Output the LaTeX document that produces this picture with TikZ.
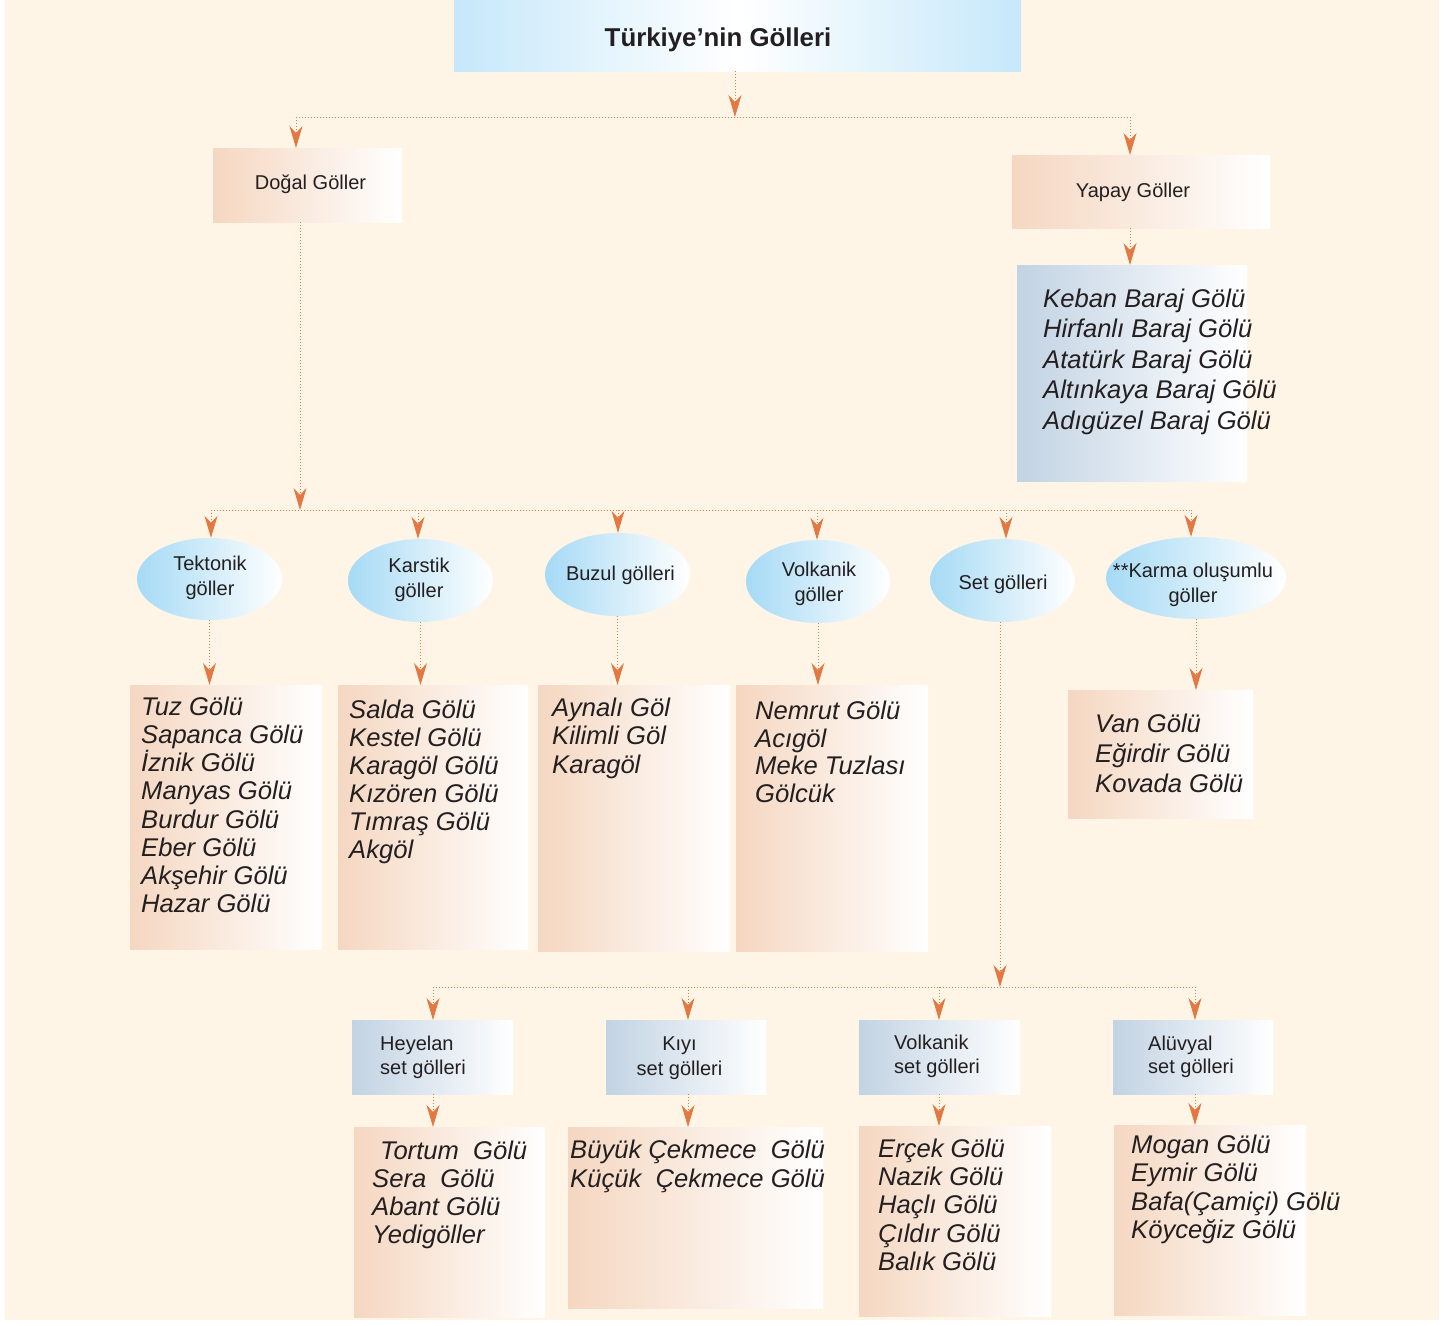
\documentclass[tikz,border=0pt]{standalone}
\usepackage{fontspec}
\setmainfont{Liberation Sans}
\usetikzlibrary{arrows.meta,shapes.geometric}
\definecolor{bgc}{HTML}{FEF5E6}
\definecolor{peachc}{HTML}{F5D7C1}
\definecolor{greyblue}{HTML}{C2D3E3}
\definecolor{ellc}{HTML}{A6DAF5}
\definecolor{titlec}{HTML}{C6E8FA}
\definecolor{arrc}{HTML}{E37843}
\definecolor{txtc}{HTML}{231F20}
\newcommand\mystS{\rule{0pt}{15pt}}
\newcommand\mystL{\rule{0pt}{20pt}}
\begin{document}
\begin{tikzpicture}[x=1pt,y=-1pt,
  boxx/.style={rectangle,inner sep=0pt,anchor=north west,draw=none},
  peach/.style={boxx,left color=peachc,right color=white},
  gblue/.style={boxx,left color=greyblue,right color=white},
  ell/.style={ellipse,inner sep=0pt,draw=none,left color=ellc,right color=white},
  lbl/.style={inner sep=0pt,text=txtc,font=\fontsize{20}{#1}\selectfont},
  lbl/.default=25,
  lst/.style={inner sep=0pt,text=txtc,anchor=north west,align=left,font=\fontsize{25.6}{#1}\selectfont\itshape},
  conn/.style={draw=arrc,line width=1pt,dash pattern=on 1pt off 2pt},
  arr/.style={conn,-{Stealth[length=22pt,width=13pt,inset=7pt]}}
]
\useasboundingbox (0,0) rectangle (1452,1326);
\fill[white] (0,0) rectangle (1452,1326);
\fill[bgc] (5,0) rectangle (1439,1320);

% boxes
\node[boxx,left color=titlec,right color=titlec,middle color=white,minimum width=567pt,minimum height=71pt] (title) at (454,0) {};
\node[peach,minimum width=189pt,minimum height=74pt] (dogal) at (213,148) {};
\node[peach,minimum width=258pt,minimum height=73pt] (yapay) at (1012,155) {};
\node[gblue,minimum width=230pt,minimum height=216pt] (yaplist) at (1017,265) {};

\node[ell,minimum width=145pt,minimum height=82pt] (tek) at (209.5,579) {};
\node[ell,minimum width=145pt,minimum height=83pt] (kar) at (420.5,580.5) {};
\node[ell,minimum width=145pt,minimum height=83pt] (buz) at (617.5,574.5) {};
\node[ell,minimum width=144pt,minimum height=83pt] (vol) at (818,581.5) {};
\node[ell,minimum width=145pt,minimum height=83pt] (set) at (1002.5,580.5) {};
\node[ell,minimum width=180pt,minimum height=82pt] (karma) at (1196,578) {};

\node[peach,minimum width=192pt,minimum height=264pt] (tekbox) at (130,685) {};
\node[peach,minimum width=190pt,minimum height=264pt] (karbox) at (338,685) {};
\node[peach,minimum width=192pt,minimum height=266pt] (buzbox) at (538,685) {};
\node[peach,minimum width=192pt,minimum height=266pt] (volbox) at (736,685) {};
\node[peach,minimum width=185pt,minimum height=128pt] (karmabox) at (1068,690) {};

\node[gblue,minimum width=161pt,minimum height=74pt] (heybox) at (352,1020) {};
\node[gblue,minimum width=160pt,minimum height=74pt] (kiyibox) at (606,1020) {};
\node[gblue,minimum width=161pt,minimum height=74pt] (vsetbox) at (859,1020) {};
\node[gblue,minimum width=160pt,minimum height=74pt] (aluvbox) at (1113,1020) {};

\node[peach,minimum width=191pt,minimum height=190pt] (heylist) at (354,1127) {};
\node[peach,minimum width=255pt,minimum height=181pt] (kiylist) at (568,1127) {};
\node[peach,minimum width=192pt,minimum height=190pt] (vsetlist) at (859,1126) {};
\node[peach,minimum width=192pt,minimum height=190pt] (aluvlist) at (1114,1125) {};

% connectors
\coordinate (j1) at (735,117);
\coordinate (jd) at (296,117);
\coordinate (jy) at (1130,117);
\draw[arr] (title.south -| j1) -- (j1);
\draw[conn] (jd) -- (jy);
\draw[arr] (jd) -- (jd |- dogal.north);
\draw[arr] (jy) -- (jy |- yapay.north);
\draw[arr] (yapay.south -| jy) -- (jy |- yaplist.north);

\coordinate (j2) at (300,510);
\coordinate (ht) at (211,510);
\coordinate (hk) at (418,510);
\coordinate (hb) at (618,510);
\coordinate (hv) at (817,510);
\coordinate (hs) at (1006,510);
\coordinate (hm) at (1191,510);
\draw[arr] (dogal.south -| j2) -- (j2);
\draw[conn] (ht) -- (hm);
\draw[arr] (ht) -- (ht |- tek.north);
\draw[arr] (hk) -- (hk |- kar.north);
\draw[arr] (hb) -- (hb |- buz.north);
\draw[arr] (hv) -- (hv |- vol.north);
\draw[arr] (hs) -- (hs |- set.north);
\draw[arr] (hm) -- (hm |- karma.north);

\draw[arr] (tek.south) -- (tek.south |- tekbox.north);
\draw[arr] (kar.south) -- (kar.south |- karbox.north);
\draw[arr] (buz.south) -- (buz.south |- buzbox.north);
\draw[arr] (vol.south) -- (vol.south |- volbox.north);
\draw[arr] (karma.south) -- (karma.south |- karmabox.north);

\coordinate (j3) at (1000,987);
\coordinate (sh) at (433,987);
\coordinate (sk) at (688,987);
\coordinate (sv) at (939,987);
\coordinate (sa) at (1195,987);
\draw[arr] (set.south -| j3) -- (j3);
\draw[conn] (sh) -- (sa);
\draw[arr] (sh) -- (sh |- heybox.north);
\draw[arr] (sk) -- (sk |- kiyibox.north);
\draw[arr] (sv) -- (sv |- vsetbox.north);
\draw[arr] (sa) -- (sa |- aluvbox.north);
\draw[arr] (heybox.south -| sh) -- (sh |- heylist.north);
\draw[arr] (kiyibox.south -| sk) -- (sk |- kiylist.north);
\draw[arr] (vsetbox.south -| sv) -- (sv |- vsetlist.north);
\draw[arr] (aluvbox.south -| sa) -- (sa |- aluvlist.north);

% texts
\node[inner sep=0pt,text=txtc,anchor=base,font=\fontsize{25.8}{30}\selectfont\bfseries] (titleT) at (718,46) {Türkiye’nin Gölleri};
\node[lbl,anchor=base] (dogalT) at (310.5,189) {Doğal Göller};
\node[lbl,anchor=base] (yapayT) at (1133,197) {Yapay Göller};

\node[lbl,anchor=north,align=center] (tekT) at (210,555) {\mystS Tektonik\\göller};
\node[lbl,anchor=north,align=center] (karT) at (419,557) {\mystS Karstik\\göller};
\node[lbl,anchor=base] (buzT) at (620.5,580) {Buzul gölleri};
\node[lbl,anchor=north,align=center] (volT) at (819,561) {\mystS Volkanik\\göller};
\node[lbl,anchor=base] (setT) at (1003,589) {Set gölleri};
\node[lbl,anchor=north,align=center] (karmaT) at (1193,562) {\mystS **Karma oluşumlu\\göller};

\node[lbl=24,anchor=north west,align=left] (heyT) at (380,1035) {\mystS Heyelan\\set gölleri};
\node[lbl,anchor=north,align=center] (kiyiT) at (679.5,1035) {\mystS Kıyı\\set gölleri};
\node[lbl=24,anchor=north west,align=left] (vsetT) at (894,1034) {\mystS Volkanik\\set gölleri};
\node[lbl=23.5,anchor=north west,align=left] (aluvT) at (1148,1035) {\mystS Alüvyal\\set gölleri};

\node[lst=30.5] (yapL) at (1043,287) {\mystL Keban Baraj Gölü\\Hirfanlı Baraj Gölü\\Atatürk Baraj Gölü\\Altınkaya Baraj Gölü\\Adıgüzel Baraj Gölü};
\node[lst=28.2] (tekL) at (141,695) {\mystL Tuz Gölü\\Sapanca Gölü\\İznik Gölü\\Manyas Gölü\\Burdur Gölü\\Eber Gölü\\Akşehir Gölü\\Hazar Gölü};
\node[lst=28] (karL) at (349,698) {\mystL Salda Gölü\\Kestel Gölü\\Karagöl Gölü\\Kızören Gölü\\Tımraş Gölü\\Akgöl};
\node[lst=28.5] (buzL) at (552,696) {\mystL Aynalı Göl\\Kilimli Göl\\Karagöl};
\node[lst=27.8] (volL) at (755,699) {\mystL Nemrut Gölü\\Acıgöl\\Meke Tuzlası\\Gölcük};
\node[lst=30] (karmaL) at (1095,712) {\mystL Van Gölü\\Eğirdir Gölü\\Kovada Gölü};
\node[lst=28] (heyL) at (372,1139) {\mystL\hspace*{8pt}Tortum\ \ Gölü\\Sera\ \ Gölü\\Abant Gölü\\Yedigöller};
\node[lst=29] (kiyL) at (570,1138) {\mystL Büyük Çekmece\ \ Gölü\\Küçük\ \ Çekmece Gölü};
\node[lst=28.3] (vsetL) at (878,1137) {\mystL Erçek Gölü\\Nazik Gölü\\Haçlı Gölü\\Çıldır Gölü\\Balık Gölü};
\node[lst=28.5] (aluvL) at (1131,1133) {\mystL Mogan Gölü\\Eymir Gölü\\Bafa(Çamiçi) Gölü\\Köyceğiz Gölü};
\end{tikzpicture}
\end{document}
